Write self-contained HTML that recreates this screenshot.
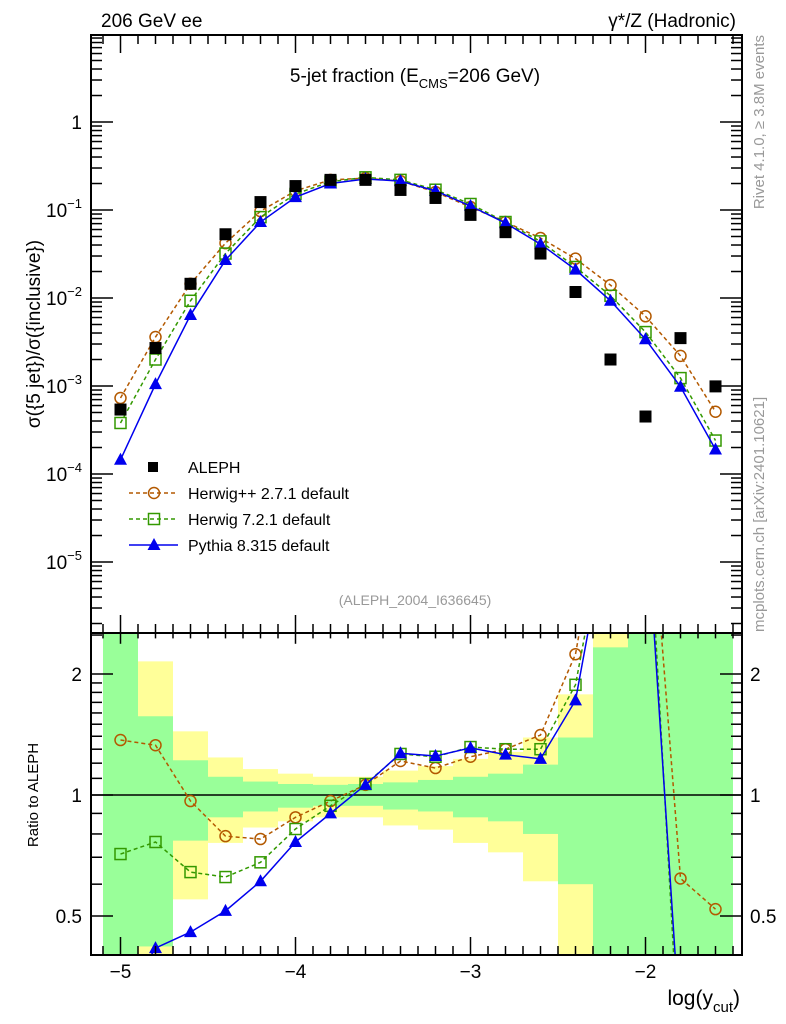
<!DOCTYPE html>
<html><head><meta charset="utf-8"><style>
html,body{margin:0;padding:0;background:#fff;width:786px;height:1024px;overflow:hidden}
svg{display:block;font-family:"Liberation Sans",Arial,sans-serif}
</style></head><body>
<svg id="chart" width="786" height="1024" viewBox="0 0 786 1024">
<defs>
<clipPath id="clipMain"><rect x="91" y="35" width="651" height="598"/></clipPath>
<clipPath id="clipRatio"><rect x="91" y="633" width="651" height="322"/></clipPath>
</defs>
<g id="bands" clip-path="url(#clipRatio)"></g>
<g id="ratioG" clip-path="url(#clipRatio)"></g>
<g id="mainG" clip-path="url(#clipMain)"></g>
<g id="axes"></g>
<rect x="91" y="35" width="651" height="598" fill="none" stroke="#000" stroke-width="2"/>
<rect x="91" y="633" width="651" height="322" fill="none" stroke="#000" stroke-width="2"/>
<text x="101" y="27" font-size="19">206 GeV ee</text>
<text x="736" y="27" font-size="19" text-anchor="end">γ*/Z (Hadronic)</text>
<text x="415" y="82" font-size="19" text-anchor="middle">5-jet fraction (E<tspan font-size="13" dy="6">CMS</tspan><tspan dy="-6">=206 GeV)</tspan></text>
<text transform="translate(40,334) rotate(-90)" font-size="19" text-anchor="middle">σ({5 jet})/σ({inclusive})</text>
<text transform="translate(38,795) rotate(-90)" font-size="15" text-anchor="middle">Ratio to ALEPH</text>
<text transform="translate(764,35) rotate(-90)" font-size="15" fill="#999" text-anchor="end">Rivet 4.1.0, ≥ 3.8M events</text>
<text transform="translate(764,632) rotate(-90)" font-size="15" fill="#999" text-anchor="start">mcplots.cern.ch [arXiv:2401.10621]</text>
<text x="415" y="605" font-size="14" fill="#999" text-anchor="middle">(ALEPH_2004_I636645)</text>
<text x="740" y="1005" font-size="21" text-anchor="end">log(y<tspan font-size="15" dy="7">cut</tspan><tspan dy="-7">)</tspan></text>
<g id="legend"></g>
</svg>
<script>
const xs = [-5,-4.8,-4.6,-4.4,-4.2,-4.0,-3.8,-3.6,-3.4,-3.2,-3.0,-2.8,-2.6,-2.4,-2.2,-2.0,-1.8,-1.6];
const aleph = [5.4e-4,2.7e-3,0.0145,0.053,0.123,0.187,0.22,0.22,0.169,0.137,0.088,0.056,0.032,0.0117,2.0e-3,4.5e-4,3.5e-3,9.9e-4];
const herwigpp = [7.3e-4,3.6e-3,0.0145,0.042,0.097,0.165,0.22,0.23,0.213,0.16,0.108,0.073,0.048,0.028,0.014,6.2e-3,2.2e-3,5.1e-4];
const herwig7 = [3.8e-4,2.0e-3,9.3e-3,0.032,0.083,0.152,0.21,0.235,0.22,0.17,0.117,0.073,0.044,0.0225,0.0106,4.1e-3,1.23e-3,2.4e-4];
const pythia = [1.45e-4,1.05e-3,6.4e-3,0.027,0.073,0.14,0.2,0.225,0.213,0.165,0.111,0.071,0.041,0.021,9.3e-3,3.4e-3,9.8e-4,1.9e-4];
const ratioHpp = [1.37,1.33,0.966,0.79,0.777,0.88,0.966,1.06,1.215,1.167,1.245,1.30,1.41,2.24,7,8,0.62,0.52];
const ratioH7 = [0.713,0.764,0.643,0.625,0.68,0.823,0.94,1.065,1.265,1.245,1.316,1.30,1.30,1.88,5.5,7,0.2,0.1];
const ratioPy = [0.3,0.416,0.456,0.515,0.61,0.764,0.9,1.06,1.27,1.25,1.31,1.26,1.23,1.72,5.1,5.4,0.25,0.2];
const greenUp = [3,1.57,1.22,1.11,1.08,1.065,1.06,1.065,1.075,1.09,1.11,1.13,1.19,1.39,2.33,3,3,3];
const greenDn = [0.3,0.42,0.77,0.88,0.91,0.93,0.94,0.94,0.92,0.91,0.88,0.86,0.80,0.60,0.3,0.3,0.3,0.3];
const yellowUp = [3,2.15,1.44,1.24,1.16,1.13,1.11,1.11,1.15,1.18,1.23,1.28,1.39,1.78,3,3,3,3];
const yellowDn = [0.3,0.3,0.55,0.76,0.83,0.86,0.88,0.88,0.84,0.82,0.76,0.72,0.61,0.3,0.3,0.3,0.3,0.3];
const xTicks = [-5,-4,-3,-2];
const yTickExp = [0,-1,-2,-3,-4,-5];
const rTicks = [0.5,1,2];

const NS='http://www.w3.org/2000/svg';
const X = v => 120.5 + (v + 5) * 175;
const Y = v => 122 - 88 * Math.log10(v);
const R = v => 795 - 121 * Math.log2(v);
function mk(parent, tag, attrs){const e=document.createElementNS(NS,tag);for(const k in attrs)e.setAttribute(k,attrs[k]);parent.appendChild(e);return e;}
const bands=document.getElementById('bands'), ratioG=document.getElementById('ratioG'), mainG=document.getElementById('mainG'), axes=document.getElementById('axes'), legend=document.getElementById('legend');

xs.forEach((x,i)=>{
  const x0=X(x-0.1), w=X(x+0.1)-x0;
  let r=mk(bands,'rect',{x:x0,y:R(yellowUp[i]),width:w,height:R(yellowDn[i])-R(yellowUp[i]),fill:'#ffff99'});
  
  
  r=mk(bands,'rect',{x:x0,y:R(greenUp[i]),width:w,height:R(greenDn[i])-R(greenUp[i]),fill:'#99ff99'});
  
  
});
let l1=mk(ratioG,'line',{x1:91,x2:742,y1:R(1),y2:R(1),stroke:'#000','stroke-width':1.5});



function marker(g,type,cx,cy,color){
  let e;
  if(type==='circle') e=mk(g,'circle',{cx:cx,cy:cy,r:5.5,fill:'none',stroke:color,'stroke-width':1.5});
  else if(type==='square') e=mk(g,'rect',{x:cx-5.5,y:cy-5.5,width:11,height:11,fill:'none',stroke:color,'stroke-width':1.5});
  else if(type==='tri') e=mk(g,'polygon',{points:`${cx},${cy-7} ${cx-6.5},${cy+5} ${cx+6.5},${cy+5}`,fill:color});
  else e=mk(g,'rect',{x:cx-6,y:cy-6,width:12,height:12,fill:color});
  return e;
}
function series(g,vals,fy,color,dash,type,name){
  const pts=xs.map((x,i)=>X(x)+','+fy(vals[i])).join(' ');
  const pl=mk(g,'polyline',{points:pts,fill:'none',stroke:color,'stroke-width':1.5,'stroke-dasharray':dash||'none'});
  
  
  xs.forEach((x,i)=>{const m=marker(g,type,X(x),fy(vals[i]),color);
    
    });
}
series(mainG,herwigpp,Y,'#b35900','4,3','circle','herwigpp');
series(mainG,herwig7,Y,'#339900','4,3','square','herwig7');
series(mainG,pythia,Y,'#0000ee','','tri','pythia');
xs.forEach((x,i)=>{const m=marker(mainG,'data',X(x),Y(aleph[i]),'#000');
  
  });
series(ratioG,ratioHpp,R,'#b35900','4,3','circle','ratio-herwigpp');
series(ratioG,ratioH7,R,'#339900','4,3','square','ratio-herwig7');
series(ratioG,ratioPy,R,'#0000ee','','tri','ratio-pythia');

function tick(x1,y1,x2,y2,w){mk(axes,'line',{x1,y1,x2,y2,stroke:'#000','stroke-width':w||1.5});}
for(let v=-5.1;v<=-1.45;v+=0.1){
  const vv=Math.round(v*10)/10, x=X(vv), major=Math.abs(vv-Math.round(vv))<1e-6, L=major?18:9;
  tick(x,35,x,35+L); tick(x,633,x,633-L); tick(x,633,x,633+L*0.6); tick(x,955,x,955-L);
}
xTicks.forEach(v=>{const t=mk(axes,'text',{x:X(v),y:978,'font-size':19,'text-anchor':'middle'});t.textContent='\u2212'+Math.abs(v);
  
  });
for(let e=1;e>=-6;e--){for(let m=1;m<=9;m++){const v=m*Math.pow(10,e),y=Y(v);if(y<35||y>633)continue;
  const L=m===1?22:11; tick(91,y,91+L,y); tick(742,y,742-L,y);}}
yTickExp.forEach(e=>{const t=mk(axes,'text',{x:82,y:Y(Math.pow(10,e))+7,'font-size':19,'text-anchor':'end'});
  if(e===0)t.textContent='1';else{t.textContent='10';const s=mk(t,'tspan',{dy:-9,'font-size':13});s.textContent=String(e).replace('-','\u2212');}
  
  });
[0.4,0.5,0.6,0.7,0.8,0.9,1,1.1,1.2,1.3,1.4,1.5,1.6,1.7,1.8,1.9,2,2.5].forEach(v=>{const y=R(v);if(y<633||y>955)return;
  const L=(v===0.5||v===1||v===2)?22:11; tick(91,y,91+L,y); tick(742,y,742-L,y);});
rTicks.forEach(v=>{const t=mk(axes,'text',{x:82,y:R(v)+7,'font-size':19,'text-anchor':'end'});t.textContent=String(v);
  
  
  const t2=mk(axes,'text',{x:750,y:R(v)+7,'font-size':19});t2.textContent=String(v);
  
  });

const leg=[['ALEPH','data','#000',''],['Herwig++ 2.7.1 default','circle','#b35900','4,3'],['Herwig 7.2.1 default','square','#339900','4,3'],['Pythia 8.315 default','tri','#0000ee','']];
leg.forEach((d,i)=>{const y=467+i*26;const g=mk(legend,'g',{});
  
  
  if(d[1]!=='data')mk(g,'line',{x1:129,x2:178,y1:y,y2:y,stroke:d[2],'stroke-width':1.5,'stroke-dasharray':d[3]||'none'});
  if(d[1]==='data')mk(g,'rect',{x:148,y:y-5,width:10,height:10,fill:'#000'});else marker(g,d[1],154,y,d[2]);
  const t=mk(g,'text',{x:188,y:y+6,'font-size':16});t.textContent=d[0];});
</script>
</body></html>
